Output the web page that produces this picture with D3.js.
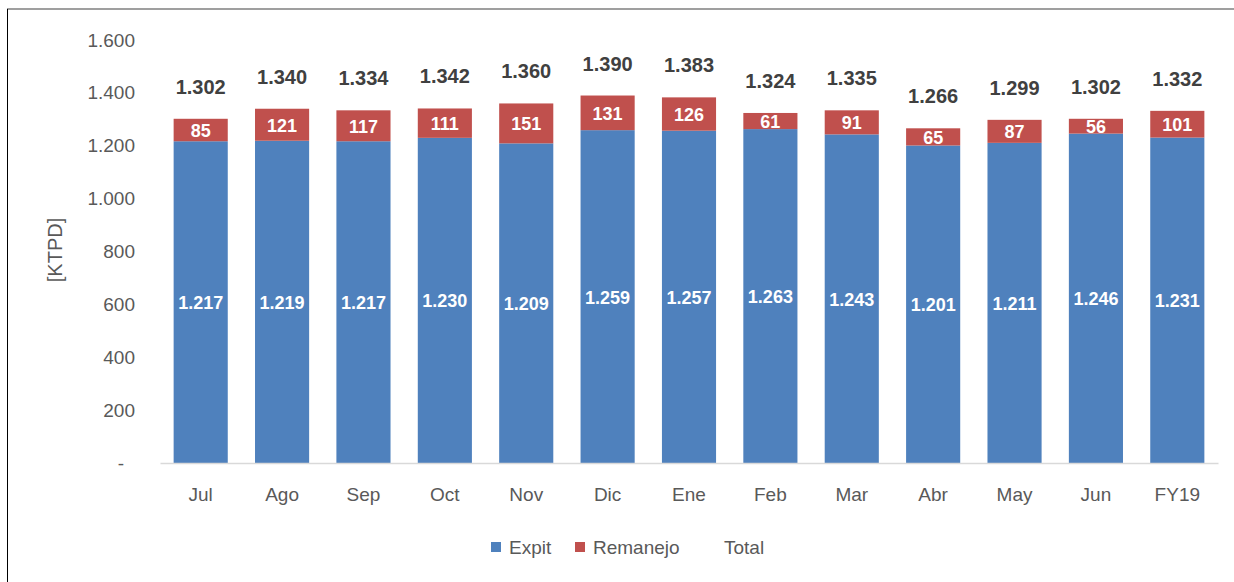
<!DOCTYPE html>
<html>
<head>
<meta charset="utf-8">
<script src="https://cdn.jsdelivr.net/npm/d3@7"></script>
<style>
  body { margin: 0; background: #fff; }
  text { font-family: "Liberation Sans", Arial, sans-serif; }
</style>
</head>
<body>
<div id="chart"></div>
<script>
// data
var categories = ["Jul", "Ago", "Sep", "Oct", "Nov", "Dic", "Ene", "Feb", "Mar", "Abr", "May", "Jun", "FY19"];
var expit = [1217, 1219, 1217, 1230, 1209, 1259, 1257, 1263, 1243, 1201, 1211, 1246, 1231];
var remanejo = [85, 121, 117, 111, 151, 131, 126, 61, 91, 65, 87, 56, 101];
var total = [1302, 1340, 1334, 1342, 1360, 1390, 1383, 1324, 1335, 1266, 1299, 1302, 1332];
var yTicks = [0, 200, 400, 600, 800, 1000, 1200, 1400, 1600];

var width = 1234, height = 582;
var plot = {left: 160, right: 1218, top: 40, bottom: 463};

var locale = d3.formatLocale({decimal: ",", thousands: ".", grouping: [3], currency: ["$", ""]});
var fmt = locale.format(",d");

var svg = d3.select("#chart")
    .append("svg")
    .attr("width", width)
    .attr("height", height);

// frame
svg.append("line").attr("x1", 7).attr("y1", 9).attr("x2", width).attr("y2", 9)
    .style("stroke", "#7f7f7f").style("stroke-width", 1.5);
svg.append("line").attr("x1", 7.5).attr("y1", 9).attr("x2", 7.5).attr("y2", height)
    .style("stroke", "#000").style("stroke-width", 1);

var x = d3.scaleBand()
    .domain(categories)
    .range([plot.left, plot.right])
    .paddingInner(0.335)
    .paddingOuter(0.1675);

var y = d3.scaleLinear()
    .domain([0, 1600])
    .range([plot.bottom, plot.top]);

// y axis
var yAxis = svg.append("g")
    .attr("transform", "translate(" + (plot.left - 22) + ",0)")
    .call(d3.axisLeft(y).tickValues(yTicks).tickSize(0)
        .tickFormat(function (d) { return d === 0 ? "-" : fmt(d); }));
yAxis.select(".domain").remove();
yAxis.selectAll("text")
    .style("font-size", "19px")
    .style("fill", "#595959")
    .style("font-family", "'Liberation Sans', Arial, sans-serif");
yAxis.selectAll(".tick")
    .filter(function (d) { return d === 0; })
    .select("text")
    .attr("x", -14);

svg.append("text")
    .attr("transform", "translate(62,250) rotate(-90)")
    .attr("text-anchor", "middle")
    .style("font-size", "20px")
    .style("fill", "#595959")
    .text("[KTPD]");

var rows = categories.map(function (c, i) {
    return {cat: c, expit: expit[i], rem: remanejo[i], total: total[i]};
});

// Expit bars
svg.selectAll(".bar-expit")
    .data(rows)
    .enter()
    .append("rect")
    .attr("class", "bar-expit")
    .attr("x", function (d) { return x(d.cat); })
    .attr("width", x.bandwidth())
    .attr("y", function (d) { return y(d.expit); })
    .attr("height", function (d) { return y(0) - y(d.expit); })
    .style("fill", "#4f81bd");

// Remanejo bars
svg.selectAll(".bar-rem")
    .data(rows)
    .enter()
    .append("rect")
    .attr("class", "bar-rem")
    .attr("x", function (d) { return x(d.cat); })
    .attr("width", x.bandwidth())
    .attr("y", function (d) { return y(d.expit + d.rem); })
    .attr("height", function (d) { return y(d.expit) - y(d.expit + d.rem); })
    .style("fill", "#c0504d");

// x axis
var xAxis = svg.append("g")
    .attr("transform", "translate(0," + plot.bottom + ")")
    .call(d3.axisBottom(x).tickSize(0).tickPadding(25));
xAxis.select(".domain").style("stroke", "#d9d9d9").style("stroke-width", 1.5);
xAxis.selectAll("text")
    .style("font-size", "19px")
    .style("fill", "#595959")
    .style("font-family", "'Liberation Sans', Arial, sans-serif");

// Expit labels
svg.selectAll(".lbl-expit")
    .data(rows)
    .enter()
    .append("text")
    .attr("x", function (d) { return x(d.cat) + x.bandwidth() / 2; })
    .attr("y", function (d) { return (y(0) + y(d.expit)) / 2 + 7; })
    .attr("text-anchor", "middle")
    .style("font-size", "18px")
    .style("font-weight", "bold")
    .style("fill", "#fff")
    .text(function (d) { return fmt(d.expit); });

// Remanejo labels
svg.selectAll(".lbl-rem")
    .data(rows)
    .enter()
    .append("text")
    .attr("x", function (d) { return x(d.cat) + x.bandwidth() / 2; })
    .attr("y", function (d) { return (y(d.expit) + y(d.expit + d.rem)) / 2 + 7; })
    .attr("text-anchor", "middle")
    .style("font-size", "18px")
    .style("font-weight", "bold")
    .style("fill", "#fff")
    .text(function (d) { return fmt(d.rem); });

// Total labels
svg.selectAll(".lbl-total")
    .data(rows)
    .enter()
    .append("text")
    .attr("x", function (d) { return x(d.cat) + x.bandwidth() / 2; })
    .attr("y", function (d) { return y(d.total) - 25; })
    .attr("text-anchor", "middle")
    .style("font-size", "20px")
    .style("font-weight", "bold")
    .style("fill", "#404040")
    .text(function (d) { return fmt(d.total); });

// legend
var legend = [
    {name: "Expit", colour: "#4f81bd", x: 491},
    {name: "Remanejo", colour: "#c0504d", x: 575},
    {name: "Total", colour: null, x: 706}
];
var lg = svg.selectAll(".legend")
    .data(legend)
    .enter()
    .append("g")
    .attr("transform", function (d) { return "translate(" + d.x + ",542)"; });
lg.filter(function (d) { return d.colour; })
    .append("rect")
    .attr("width", 10)
    .attr("height", 10)
    .style("fill", function (d) { return d.colour; });
lg.append("text")
    .attr("x", 18)
    .attr("y", 12)
    .style("font-size", "19px")
    .style("fill", "#595959")
    .text(function (d) { return d.name; });
</script>
</body>
</html>
